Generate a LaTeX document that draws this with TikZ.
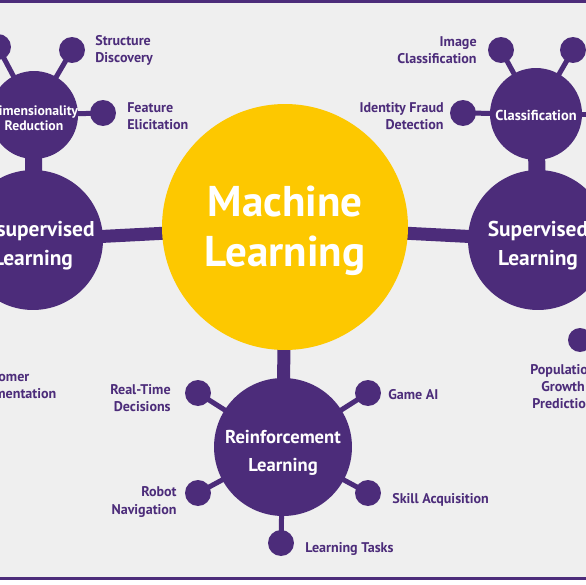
\documentclass[tikz,border=0pt]{standalone}
\usepackage{fontspec}
\setmainfont{PT Sans}
\usetikzlibrary{backgrounds}
\definecolor{mlpurple}{RGB}{76,44,122}
\definecolor{mlyellow}{RGB}{253,200,0}
\definecolor{mlgray}{RGB}{239,239,239}

\begin{document}
\begin{tikzpicture}[x=0.02cm, y=-0.02cm,
    core/.style={circle, fill=mlyellow, inner sep=0pt, minimum size=4.92cm},
    hub/.style={circle, fill=mlpurple, inner sep=0pt, minimum size=2.8cm},
    subhub/.style={circle, fill=mlpurple, inner sep=0pt, minimum size=1.8cm},
    hubtext/.style={text=white, inner sep=0pt, align=center, font=\bfseries\fontsize{12.2}{16.5}\selectfont},
    bubble/.style={circle, fill=mlpurple, inner sep=0pt, minimum size=0.52cm},
    tag/.style={text=mlpurple, inner sep=0pt, font=\bfseries\fontsize{8}{9.7}\selectfont},
    spoke/.style={mlpurple, line width=0.1cm},
    link/.style={mlpurple, line width=0.26cm},
    neck/.style={mlpurple, line width=0.34cm}]
    \clip (0,0) rectangle (586,585);

    % Define nodes
    \node[core, label={[hubtext, yshift=-2.4pt, font=\bfseries\fontsize{24.5}{28.5}\selectfont]center:Machine\\Learning}] (ml) at (285,227) {};
    \node[hub, label={[hubtext, yshift=-3pt]center:Unsupervised\\Learning}] (unsup) at (33,240) {};
    \node[hub, label={[hubtext, yshift=-3pt]center:Supervised\\Learning}] (sup) at (538,240) {};
    \node[hub, minimum size=2.76cm, label={[hubtext, yshift=-3.4pt, font=\bfseries\fontsize{10.6}{15.9}\selectfont]center:Reinforcement\\Learning}] (reinf) at (283,447) {};
    \node[subhub, minimum size=1.76cm, label={[hubtext, yshift=-1.6pt, font=\bfseries\fontsize{7.8}{8.6}\selectfont]center:Dimensionality\\Reduction}] (dimred) at (34,115) {};
    \node[subhub, minimum size=1.84cm, label={[hubtext, yshift=-0.6pt, font=\bfseries\fontsize{8.2}{9}\selectfont]center:Classification}] (classif) at (536,114) {};

    % Small bubbles
    \node[bubble] (bleft) at (-2,47) {};
    \node[bubble] (bstruct) at (72,50) {};
    \node[bubble] (bfeat) at (103,113) {};
    \node[bubble] (bimage) at (501,50) {};
    \node[bubble] (bclass) at (573,50) {};
    \node[bubble] (bfraud) at (463,113) {};
    \coordinate (bout) at (600,114);
    \node[bubble, minimum size=0.48cm] (bpop) at (580,340) {};
    \node[bubble] (breal) at (198,393) {};
    \node[bubble] (bgame) at (368,393) {};
    \node[bubble] (brobot) at (198,493) {};
    \node[bubble] (bskill) at (368,493) {};
    \node[bubble] (btasks) at (281,543) {};

    % Labels
    \node[tag, anchor=west, align=left] (lstruct) at (95,50) {Structure\\Discovery};
    \node[tag, anchor=west, align=left] (lfeat) at (127,116) {Feature\\Elicitation};
    \node[tag, anchor=east, align=right] (limage) at (477,50) {Image\\Classification};
    \node[tag, anchor=east, align=right] (lfraud) at (444,116) {Identity Fraud\\Detection};
    \node[tag, anchor=west, align=left] (lcust) at (-28,386) {Customer\\Segmentation};
    \node[tag, align=center] (lpop) at (563,387) {Population\\Growth\\Prediction};
    \node[tag, anchor=east, align=right] (lreal) at (171,398) {Real-Time\\Decisions};
    \node[tag, anchor=west] (lgame) at (388,395) {Game AI};
    \node[tag, anchor=east, align=right] (lrobot) at (177,502) {Robot\\Navigation};
    \node[tag, anchor=west] (lskill) at (392,500) {Skill Acquisition};
    \node[tag, anchor=west] (ltasks) at (305,549) {Learning Tasks};

    % Draw connectors behind the circles
    \begin{pgfonlayer}{background}
        \fill[mlgray] (0,0) rectangle (586,585);
        \fill[white] (0,580) rectangle (586,585);
        \fill[mlpurple] (0,0) rectangle (586,2.5);
        \fill[mlpurple] (0,576.5) rectangle (586,580);
        \draw[link] (unsup.center) -- (ml.center);
        \draw[link] (sup.center) -- (ml.center);
        \draw[link] (reinf.center) -- (ml.center);
        \draw[neck] (dimred.center) -- (unsup.center);
        \draw[neck] (classif.center) -- (sup.center);
        \foreach \b in {bleft, bstruct, bfeat}
            \draw[spoke] (dimred.center) -- (\b.center);
        \foreach \b in {bimage, bclass, bfraud}
            \draw[spoke] (classif.center) -- (\b.center);
        \draw[spoke] (classif.center) -- (bout);
        \foreach \b in {breal, bgame, brobot, bskill, btasks}
            \draw[spoke] (reinf.center) -- (\b.center);
    \end{pgfonlayer}
\end{tikzpicture}
\end{document}
